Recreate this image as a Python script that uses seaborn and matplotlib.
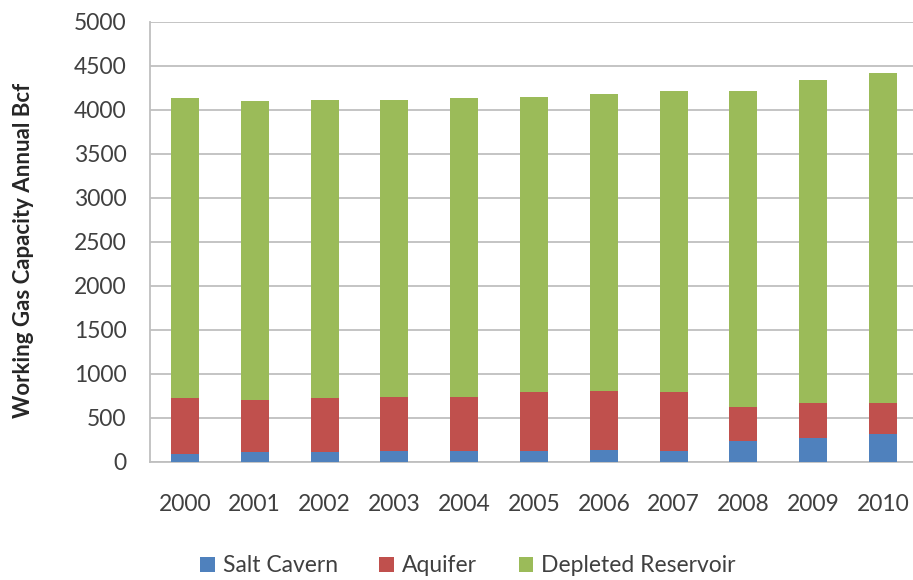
import matplotlib
matplotlib.use("Agg")
import matplotlib.pyplot as plt
from matplotlib.patches import Patch
import seaborn as sns
import pandas as pd
import numpy as np

years = ["2000", "2001", "2002", "2003", "2004", "2005", "2006", "2007", "2008", "2009", "2010"]
salt_cavern = [95, 112, 113, 120, 120, 121, 140, 121, 233, 272, 313]
aquifer = [628, 596, 610, 614, 614, 670, 662, 670, 389, 396, 355]
depleted_reservoir = [3411, 3399, 3392, 3381, 3400, 3354, 3378, 3428, 3597, 3678, 3755]

series_names = ["Salt Cavern", "Aquifer", "Depleted Reservoir"]
colors = ["#4F81BD", "#C0504D", "#9BBB59"]
ytick_vals = [0, 500, 1000, 1500, 2000, 2500, 3000, 3500, 4000, 4500, 5000]

df = pd.DataFrame({"year": years, "Salt Cavern": salt_cavern,
                   "Aquifer": aquifer, "Depleted Reservoir": depleted_reservoir})
df["top_salt"] = df["Salt Cavern"]
df["top_aq"] = df["top_salt"] + df["Aquifer"]
df["top_dep"] = df["top_aq"] + df["Depleted Reservoir"]

sns.set_theme(style="white")
plt.rcParams["font.family"] = ["Lato", "DejaVu Sans"]

W, H = 913, 580
fig = plt.figure(figsize=(W / 100, H / 100), dpi=100)
ax = fig.add_axes([150 / W, (H - 462) / H, (918 - 150) / W, 440 / H])

grid_c = "#BFBFBF"
text_c = "#404040"

for col, c in zip(["top_dep", "top_aq", "top_salt"], [colors[2], colors[1], colors[0]]):
    sns.barplot(data=df, x="year", y=col, color=c, width=0.4, ax=ax,
                saturation=1, linewidth=0, zorder=3)

ax.set_xlim(-0.5, len(years) - 0.5)
ax.set_ylim(0, 5000)
ax.set_yticks(ytick_vals)
ax.set_yticklabels([str(v) for v in ytick_vals], fontsize=16.5, color=text_c)
ax.yaxis.grid(True, color=grid_c, linewidth=1.3, zorder=0)
ax.set_axisbelow(True)

ax.set_xticks(range(len(years)))
ax.set_xticklabels(years, fontsize=16.5, color=text_c)
ax.set_xticks(np.arange(-0.5, len(years), 1.0), minor=True)
ax.tick_params(axis="x", which="major", length=0, pad=23)
ax.tick_params(axis="x", which="minor", length=8, width=1.3, color=grid_c, direction="out")
ax.tick_params(axis="y", which="major", length=8, width=1.3, color=grid_c, direction="out", pad=9)

for s in ["top", "right"]:
    ax.spines[s].set_visible(False)
for s in ["left", "bottom"]:
    ax.spines[s].set_color(grid_c)
    ax.spines[s].set_linewidth(1.3)

ax.set_xlabel("")
ax.set_ylabel("Working Gas Capacity Annual Bcf", fontsize=16, fontweight="bold",
              color="#262626")
ax.yaxis.set_label_coords(-116 / 768, (462 - 250) / 440)

handles = [Patch(facecolor=c, edgecolor="none") for c in colors]
fig.legend(handles, series_names, loc="center", bbox_to_anchor=(468 / W, 1 - 566 / H),
           ncol=3, frameon=False, fontsize=16.5, handlelength=0.65, handleheight=0.65,
           handletextpad=0.35, columnspacing=1.8, labelcolor=text_c)

fig.savefig("out.png", dpi=100)
